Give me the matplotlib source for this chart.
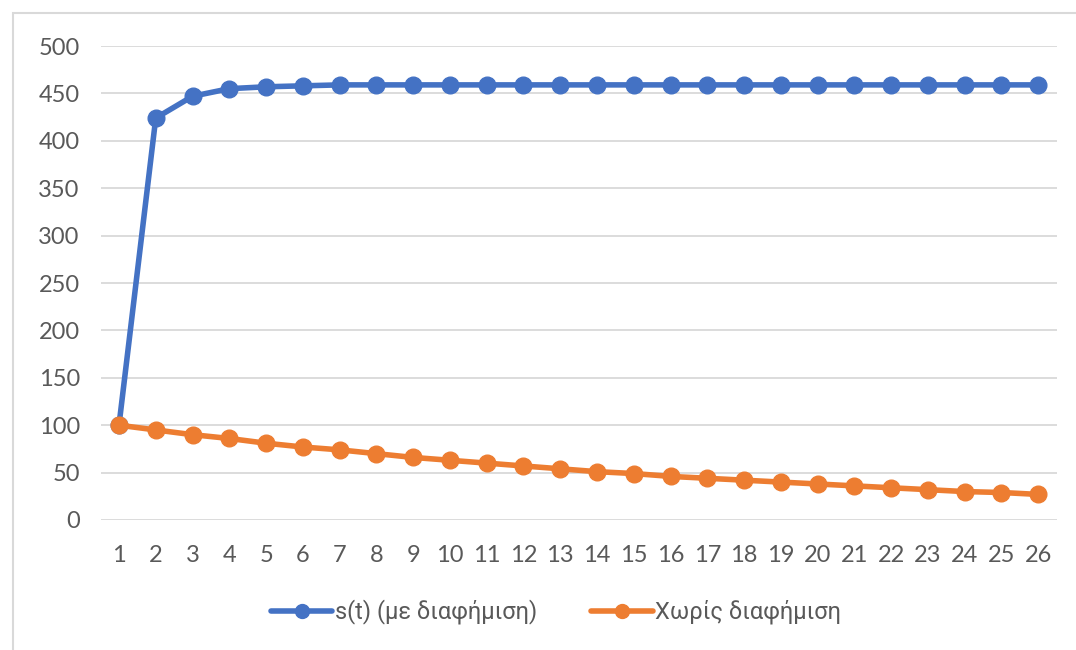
import matplotlib.pyplot as plt
from matplotlib.patches import Rectangle

t = list(range(1, 27))
with_ad = [100, 424, 447, 455, 457, 458, 459, 459, 459, 459, 459, 459, 459,
           459, 459, 459, 459, 459, 459, 459, 459, 459, 459, 459, 459, 459]
no_ad = [100, 95, 90, 86, 81, 77, 74, 70, 66, 63, 60, 57, 54,
         51, 49, 46, 44, 42, 40, 38, 36, 34, 32, 30, 29, 27]
labels = ["s(t) (με διαφήμιση)", "Χωρίς διαφήμιση"]
yticks = [0, 50, 100, 150, 200, 250, 300, 350, 400, 450, 500]

plt.rcParams['font.family'] = ['Lato', 'Roboto', 'DejaVu Sans']

fig = plt.figure(figsize=(10.76, 6.5), dpi=100)
ax = fig.add_axes([0.0935, 0.2, 0.8885, 0.7292])

# outer chart border (Excel style)
fig.patches.append(Rectangle((13 / 1076, -0.1), 1.2, 1 - 13 / 650 + 0.1,
                             transform=fig.transFigure, fill=False,
                             edgecolor="#D9D9D9", linewidth=1.5))

ax.plot(t, with_ad, color="#4472C4", lw=4, marker="o", ms=12,
        label=labels[0], solid_capstyle="round", zorder=3)
ax.plot(t, no_ad, color="#ED7D31", lw=4, marker="o", ms=12,
        label=labels[1], solid_capstyle="round", zorder=3)

ax.set_xlim(0.5, 26.5)
ax.set_ylim(0, 500)
ax.set_yticks(yticks)
ax.set_xticks(t)
ax.grid(axis="y", color="#D9D9D9", lw=1.3)
ax.set_axisbelow(True)
for s in ax.spines.values():
    s.set_visible(False)
ax.tick_params(length=0, labelsize=17, colors="#595959")
ax.tick_params(axis="x", pad=18)
ax.tick_params(axis="y", pad=15)

leg = fig.legend(loc="center", bbox_to_anchor=(556 / 1076, 1 - 612 / 650),
                 ncol=2, frameon=False, labelcolor="#595959",
                 handlelength=2.6, handletextpad=0.1, columnspacing=2.3,
                 prop={'family': ['Roboto', 'DejaVu Sans'], 'size': 17})
for h in leg.legend_handles:
    h.set_markersize(10)

fig.savefig("out.png", dpi=100)
